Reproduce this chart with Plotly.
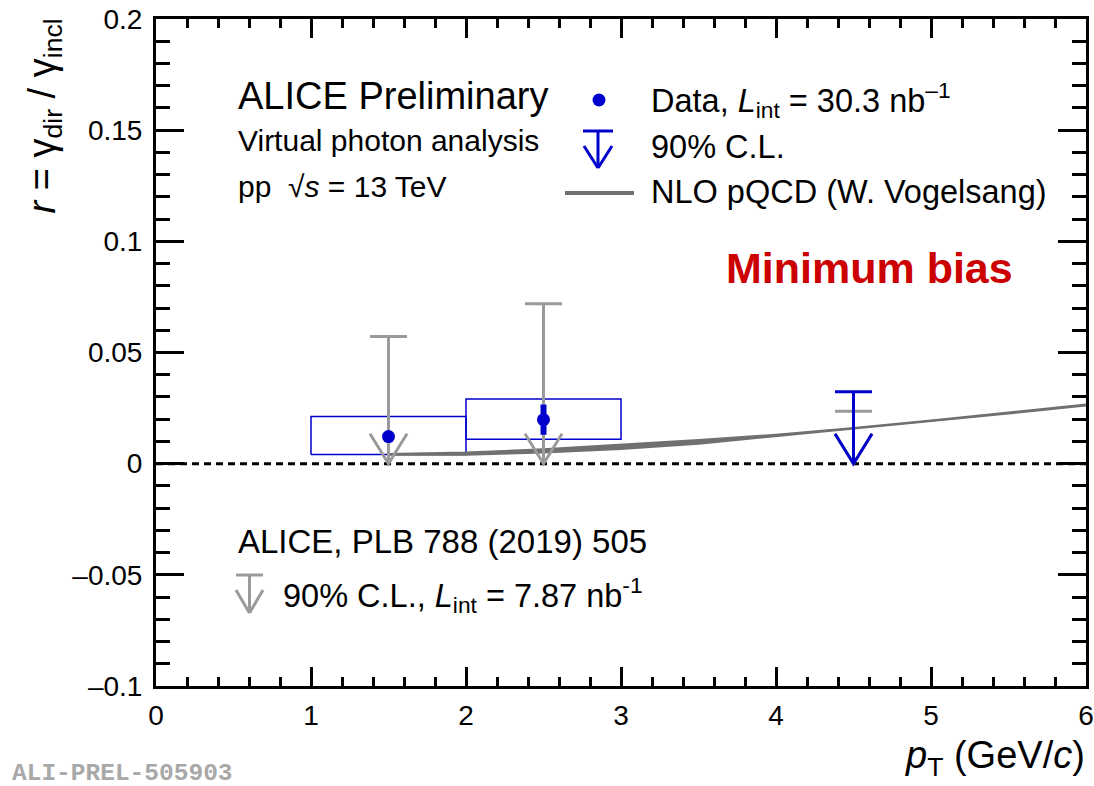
import plotly.graph_objects as go

# ---------------- data ----------------
pt_centers = [1.5, 2.5]
pt_lo_edges = [1.0, 2.0]
pt_hi_edges = [2.0, 3.0]
r_values = [0.0122, 0.0198]
r_stat = [0.0020, 0.0068]
r_sys_lo = [0.0041, 0.0110]
r_sys_hi = [0.0212, 0.0291]

ul_new_x = [4.5]
ul_new_val = [0.0324]

ul_old_x = [1.5, 2.5, 4.5]
ul_old_val = [0.0572, 0.0719, 0.0236]

nlo_x = [1.5, 2.0, 2.5, 3.0, 3.5, 4.0, 4.5, 5.0, 5.5, 6.0]
nlo_lo = [0.0040, 0.0040, 0.0050, 0.0066, 0.0090, 0.0124, 0.0156, 0.0190, 0.0226, 0.0262]
nlo_hi = [0.0043, 0.0050, 0.0065, 0.0085, 0.0106, 0.0130, 0.0160, 0.0194, 0.0230, 0.0266]

x_tick_vals = [0, 1, 2, 3, 4, 5, 6]
x_tick_text = ["0", "1", "2", "3", "4", "5", "6"]
y_tick_vals = [-0.1, -0.05, 0, 0.05, 0.1, 0.15, 0.2]
y_tick_text = ["\u20130.1", "\u20130.05", "0", "0.05", "0.1", "0.15", "0.2"]

# ---------------- layout geometry ----------------
W, H = 1094, 786
L, R, T, B = 156, 8, 19, 100
PW, PH = W - L - R, H - T - B
XR = [0, 6]
YR = [-0.1, 0.2]


def px(xp):
    return (xp - L) / PW


def py(yp):
    return (H - B - yp) / PH


# arrow style in data units
ARW = 18.5 / PW * (XR[1] - XR[0])
ARH = 30.0 / PH * (YR[1] - YR[0])

FONT = "Liberation Sans, Arial, Helvetica, sans-serif"
BLUE = "#0000cc"
GREY = "#9a9a9a"
NLO = "#707070"


def limit_path(xs, vals):
    X, Y = [], []
    for x, v in zip(xs, vals):
        X += [x - ARW, x + ARW, None, x, x, None, x - ARW, x, x + ARW, None]
        Y += [v, v, None, v, 0, None, ARH, 0, ARH, None]
    return X, Y


fig = go.Figure()

# zero line
fig.add_trace(go.Scatter(x=XR, y=[0, 0], mode="lines",
                         line=dict(color="black", width=3, dash="7px,5px"),
                         hoverinfo="skip", showlegend=False))

# systematic boxes
bx, by = [], []
for xl, xh, lo, hi in zip(pt_lo_edges, pt_hi_edges, r_sys_lo, r_sys_hi):
    bx += [xl, xh, xh, xl, xl, None]
    by += [lo, lo, hi, hi, lo, None]
fig.add_trace(go.Scatter(x=bx, y=by, mode="lines",
                         line=dict(color=BLUE, width=1.5),
                         hoverinfo="skip", showlegend=False))

# NLO pQCD band
fig.add_trace(go.Scatter(x=nlo_x, y=nlo_lo, mode="lines",
                         line=dict(color=NLO, width=2),
                         hoverinfo="skip", showlegend=False))
fig.add_trace(go.Scatter(x=nlo_x, y=nlo_hi, mode="lines", fill="tonexty",
                         fillcolor=NLO, line=dict(color=NLO, width=2),
                         hoverinfo="skip", showlegend=False))

# old upper limits (grey)
gx, gy = limit_path(ul_old_x, ul_old_val)
fig.add_trace(go.Scatter(x=gx, y=gy, mode="lines",
                         line=dict(color=GREY, width=3),
                         hoverinfo="skip", showlegend=False))

# new upper limit (blue)
nx, ny = limit_path(ul_new_x, ul_new_val)
fig.add_trace(go.Scatter(x=nx, y=ny, mode="lines",
                         line=dict(color=BLUE, width=3),
                         hoverinfo="skip", showlegend=False))

# data points
fig.add_trace(go.Scatter(x=pt_centers, y=r_values, mode="markers",
                         marker=dict(color=BLUE, size=13),
                         error_y=dict(type="data", array=r_stat, color=BLUE,
                                      thickness=6, width=0),
                         showlegend=False))

axis_common = dict(showline=True, linecolor="black", linewidth=3, mirror="allticks",
                   ticks="inside", tickwidth=3, tickcolor="black",
                   showgrid=False, zeroline=False, automargin=False,
                   tickfont=dict(family=FONT, size=28, color="black"))

fig.update_xaxes(range=XR, tickmode="array", tickvals=x_tick_vals, ticktext=x_tick_text,
                 ticklen=19, ticklabelstandoff=2,
                 minor=dict(dtick=0.2, ticklen=9, tickwidth=3, ticks="inside",
                            tickcolor="black", showgrid=False),
                 **axis_common)
fig.update_yaxes(range=YR, tickmode="array", tickvals=y_tick_vals, ticktext=y_tick_text,
                 ticklen=28, ticklabelstandoff=5,
                 minor=dict(dtick=0.01, tick0=0, ticklen=14, tickwidth=3, ticks="inside",
                            tickcolor="black", showgrid=False),
                 **axis_common)

ann = []


def text(xp, yp, s, size, xanchor="left", yanchor="middle", color="black", angle=0):
    ann.append(dict(x=px(xp), y=py(yp), xref="paper", yref="paper", text=s,
                    showarrow=False, xanchor=xanchor, yanchor=yanchor, textangle=angle,
                    font=dict(family=FONT, size=size, color=color)))


text(236, 96, "ALICE Preliminary", 38)
text(236, 140, "Virtual photon analysis", 30)
text(236, 186, "pp  \u221a<i>s</i> = 13 TeV", 30)

text(649, 100, "Data, <i>L</i><sub>int</sub> = 30.3 nb<sup>\u20131</sup>", 32.5)
text(649, 147, "90% C.L.", 32.5)
text(649, 192, "NLO pQCD (W. Vogelsang)", 32.5)

text(869, 268, "<b>Minimum bias</b>", 43, xanchor="center", color="#cc0000")

text(236, 541, "ALICE, PLB 788 (2019) 505", 33)
text(281, 595, "90% C.L., <i>L</i><sub>int</sub> = 7.87 nb<sup>-1</sup>", 32.5)

# axis titles
text(1087, 758, "<i>p</i><sub>T</sub> (GeV/<i>c</i>)", 38, xanchor="right")
text(44, 17, "<i>r</i> = \u03b3<sub>dir</sub> / \u03b3<sub>incl</sub>", 38,
     xanchor="center", yanchor="top", angle=-90)

ann.append(dict(x=px(10), y=py(774), xref="paper", yref="paper",
                text="<b>ALI-PREL-505903</b>", showarrow=False,
                xanchor="left", yanchor="middle",
                font=dict(family="Liberation Mono, Courier New, monospace", size=24.5,
                          color="#a8a8a8")))

# legend symbols (layout decoration in paper coords)
shapes = []


def seg(x0, y0, x1, y1, color, width):
    shapes.append(dict(type="line", xref="paper", yref="paper",
                       x0=px(x0), y0=py(y0), x1=px(x1), y1=py(y1),
                       line=dict(color=color, width=width)))


# data marker
shapes.append(dict(type="circle", xref="paper", yref="paper",
                   x0=px(599 - 6.5), x1=px(599 + 6.5), y0=py(100 - 6.5), y1=py(100 + 6.5),
                   fillcolor=BLUE, line=dict(width=0)))
# blue arrow
seg(583, 131, 613, 131, BLUE, 3)
seg(598, 131, 598, 168, BLUE, 3)
seg(584, 146, 598, 168, BLUE, 3)
seg(612, 146, 598, 168, BLUE, 3)
# NLO line
seg(565, 193, 634, 193, NLO, 4)
# grey arrow
seg(236, 575, 263, 575, GREY, 3)
seg(249.5, 575, 249.5, 613, GREY, 3)
seg(236, 590, 249.5, 613, GREY, 3)
seg(263, 590, 249.5, 613, GREY, 3)

fig.update_layout(width=W, height=H, margin=dict(l=L, r=R, t=T, b=B, autoexpand=False),
                  paper_bgcolor="white", plot_bgcolor="white",
                  annotations=ann, shapes=shapes, showlegend=False,
                  font=dict(family=FONT))

fig.write_html("out.html")
